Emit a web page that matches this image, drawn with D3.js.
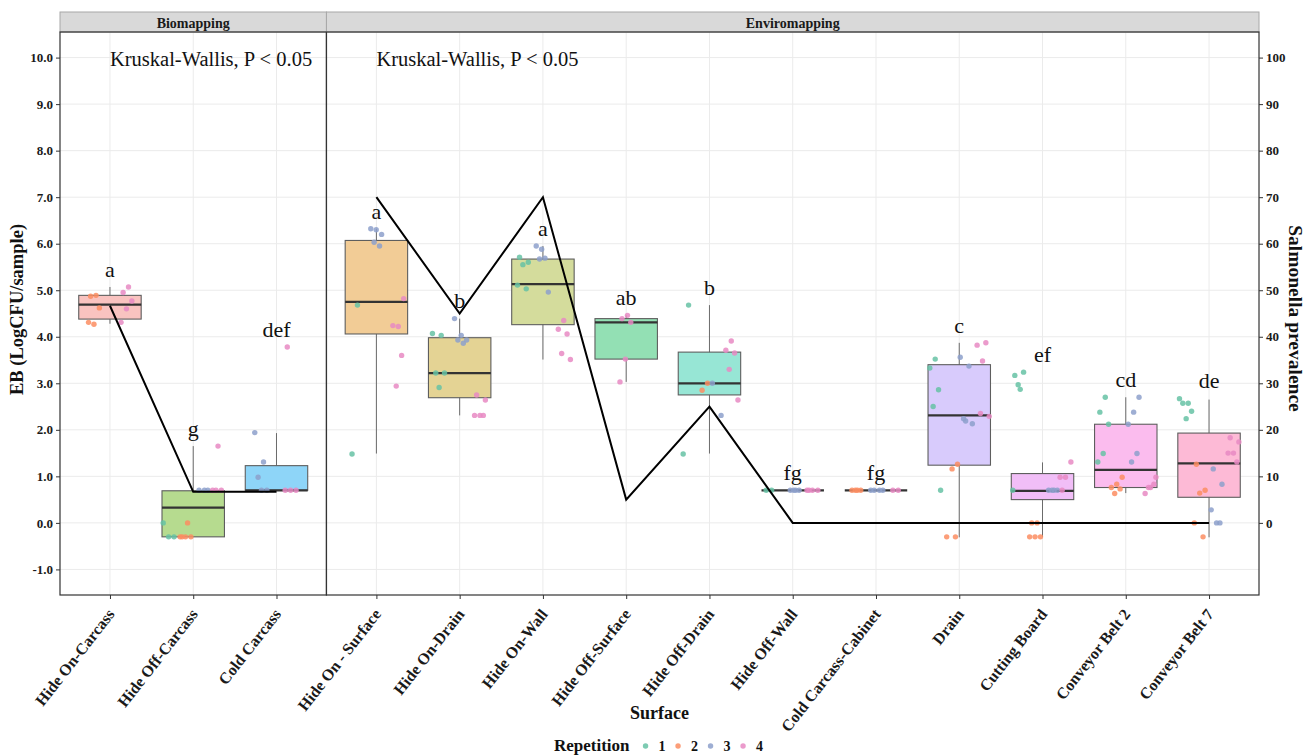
<!DOCTYPE html>
<html>
<head>
<meta charset="utf-8">
<script src="https://cdn.jsdelivr.net/npm/d3@7"></script>
<style>
  body { margin: 0; background: #fff; }
  svg { display: block; }
  text { font-family: "Liberation Serif", "Times New Roman", serif; }
</style>
</head>
<body>
<svg id="chart" width="1305" height="756"></svg>
<script>
// ---- facets and surfaces ----
const facetNames = ["Biomapping", "Enviromapping"];
const bioSurfaces = ["Hide On-Carcass", "Hide Off-Carcass", "Cold Carcass"];
const envSurfaces = ["Hide On - Surface", "Hide On-Drain", "Hide On-Wall", "Hide Off-Surface",
  "Hide Off-Drain", "Hide Off-Wall", "Cold Carcass-Cabinet", "Drain", "Cutting Board",
  "Conveyor Belt 2", "Conveyor Belt 7"];
const allSurfaces = bioSurfaces.concat(envSurfaces);

// ---- box plot statistics (log CFU/sample), one entry per surface ----
const boxLow    = [4.28, -0.30, 0.70, 1.49, 2.31, 3.51, 3.03, 1.49, 0.70, 0.70, -0.31, -0.30, 0.64, -0.31];
const boxQ1     = [4.38, -0.30, 0.70, 4.06, 2.69, 4.26, 3.52, 2.75, 0.70, 0.70, 1.24, 0.50, 0.76, 0.55];
const boxMedian = [4.69, 0.33, 0.70, 4.75, 3.22, 5.13, 4.31, 3.00, 0.70, 0.70, 2.31, 0.69, 1.14, 1.28];
const boxQ3     = [4.89, 0.69, 1.23, 6.07, 3.98, 5.67, 4.39, 3.67, 0.70, 0.70, 3.40, 1.06, 2.12, 1.93];
const boxHigh   = [5.07, 1.65, 1.93, 6.32, 4.39, 5.95, 4.46, 4.68, 0.70, 0.70, 3.87, 1.30, 2.70, 2.65];

// ---- individual samples by repetition (per surface) ----
const rep1Values = [
  [], [-0.30, -0.30, 0.00], [],
  [4.68, 1.48], [4.07, 4.03, 3.22, 3.22, 2.91], [5.71, 5.60, 5.55, 5.11, 5.03], [],
  [4.68, 1.48], [0.70, 0.70], [], [0.70, 3.52, 3.33, 2.86, 2.50], [2.87, 3.17, 3.24, 2.97, 0.70],
  [2.70, 2.38, 2.12, 1.49, 1.31], [2.67, 2.57, 2.57, 2.40, 2.24]
];
const rep2Values = [
  [4.89, 4.87, 4.62, 4.27, 4.31], [0.00, -0.30, -0.30, -0.30, -0.30], [],
  [], [], [], [],
  [3.00, 2.85], [], [0.70, 0.70, 0.70, 0.70], [1.26, 1.16, -0.30, -0.30], [0.00, 0.00, -0.30, -0.30, -0.30],
  [0.98, 0.83, 0.76, 0.73, 0.63], [1.26, 0.70, 0.64, 0.00, -0.30]
];
const rep3Values = [
  [], [0.70, 0.70, 0.70], [1.94, 1.31, 0.98, 0.70, 0.70],
  [6.20, 6.30, 6.32, 5.95, 6.03], [4.39, 3.86, 3.93, 3.93, 4.03], [5.88, 5.95, 5.69, 5.67, 4.96], [],
  [3.00, 2.31], [0.70, 0.70, 0.70, 0.70], [0.70, 0.70, 0.70, 0.70], [2.19, 3.56, 3.37, 2.24, 2.13], [0.70, 0.70, 0.70, 0.70],
  [2.70, 2.38, 2.12, 1.49, 1.31], [1.16, 0.83, 0.00, 0.28, 0.00]
];
const rep4Values = [
  [5.07, 4.95, 4.77, 4.60, 4.31], [1.65, 0.70, 0.70, 0.70], [3.78, 0.70, 0.70, 0.70],
  [4.82, 4.22, 4.24, 3.60, 2.94], [2.75, 2.64, 2.31, 2.31, 2.31], [4.35, 4.16, 4.06, 3.64, 3.51], [4.46, 4.39, 4.31, 3.52, 3.03],
  [3.91, 3.71, 3.65, 3.30, 2.64], [0.70, 0.70, 0.70, 0.70], [0.70, 0.70], [3.48, 3.82, 3.87, 2.35, 2.29], [0.70, 1.31, 0.98, 0.98],
  [0.98, 0.76, 0.63, 0.83, 0.76], [1.83, 1.74, 1.50, 1.50, 1.31]
];
const repetitions = ["1", "2", "3", "4"];

// ---- Salmonella prevalence (%) per surface ----
const prevalence = [46.67, 6.67, 6.67, 70, 45, 70, 5, 25, 0, 0, 0, 0, 0, 0];

// ---- compact letter display ----
const groupLetters = ["a", "g", "def", "a", "b", "a", "ab", "b", "fg", "fg", "c", "ef", "cd", "de"];

// ---- tick labels ----
const yTicks = [-1, 0, 1, 2, 3, 4, 5, 6, 7, 8, 9, 10];
const prevTicks = [0, 10, 20, 30, 40, 50, 60, 70, 80, 90, 100];

// ---- colours ----
const boxFills = ["#F9C3C0", "#B6DB8F", "#8ED5F8", "#F2CC96", "#E4D394", "#D4DC9C", "#93E0B4",
  "#97E6D5", "#9FE3EE", "#A9D4FA", "#D8CBFC", "#F1BEF7", "#FBBCEE", "#FDBAD6"];
const repColors = ["#66C2A5", "#FC8D62", "#8DA0CB", "#E78AC3"];

// ---- layout ----
const svg = d3.select("#chart");
const plotL = 60, plotR = 1259, plotT = 32, plotB = 595, stripT = 12;
const unitPx = (plotR - plotL) / ((bioSurfaces.length - 1 + 1.2) + (envSurfaces.length - 1 + 1.2));
const splitX = plotL + unitPx * (bioSurfaces.length - 1 + 1.2);

const xBio = d3.scalePoint().domain(bioSurfaces).range([plotL, splitX]).padding(0.6);
const xEnv = d3.scalePoint().domain(envSurfaces).range([splitX, plotR]).padding(0.6);
const y = d3.scaleLinear().domain([-1.55, 10.55]).range([plotB, plotT]);
const yPrev = d3.scaleLinear().domain([-15.5, 105.5]).range([plotB, plotT]);

const panels = [
  { name: facetNames[0], surfaces: bioSurfaces, x: xBio, offset: 0, x0: plotL, x1: splitX },
  { name: facetNames[1], surfaces: envSurfaces, x: xEnv, offset: bioSurfaces.length, x0: splitX, x1: plotR }
];

const gridColor = "#EBEBEB";
const frameColor = "#333333";

// gridlines
const grid = svg.append("g");
grid.selectAll("line.h").data(yTicks).join("line")
  .attr("x1", plotL).attr("x2", plotR)
  .attr("y1", d => y(d)).attr("y2", d => y(d))
  .attr("stroke", gridColor).attr("stroke-width", 1);
panels.forEach(p => {
  grid.selectAll(null).data(p.surfaces).join("line")
    .attr("x1", d => p.x(d)).attr("x2", d => p.x(d))
    .attr("y1", plotT).attr("y2", plotB)
    .attr("stroke", gridColor).attr("stroke-width", 1);
});

// boxes, samples, prevalence line, letters per panel
let jitterCounter = 0;
const repArrays = [rep1Values, rep2Values, rep3Values, rep4Values];
panels.forEach(p => {
  const g = svg.append("g");
  const step = p.x.step();
  const boxW = 0.75 * step;
  const idx = p.surfaces.map((s, k) => k + p.offset);

  // whiskers
  g.selectAll("line.wl").data(idx).join("line")
    .attr("x1", i => p.x(allSurfaces[i])).attr("x2", i => p.x(allSurfaces[i]))
    .attr("y1", i => y(boxLow[i])).attr("y2", i => y(boxHigh[i]))
    .attr("stroke", "#6b6b6b").attr("stroke-width", 1);
  // boxes
  g.selectAll("rect").data(idx).join("rect")
    .attr("x", i => p.x(allSurfaces[i]) - boxW / 2).attr("width", boxW)
    .attr("y", i => y(boxQ3[i])).attr("height", i => y(boxQ1[i]) - y(boxQ3[i]))
    .attr("fill", i => boxFills[i]).attr("stroke", "#5e5e5e").attr("stroke-width", 1.1);
  // medians
  g.selectAll("line.med").data(idx).join("line")
    .attr("x1", i => p.x(allSurfaces[i]) - boxW / 2).attr("x2", i => p.x(allSurfaces[i]) + boxW / 2)
    .attr("y1", i => y(boxMedian[i])).attr("y2", i => y(boxMedian[i]))
    .attr("stroke", "#333").attr("stroke-width", 2.2);

  // samples, dodged by repetition with a small deterministic jitter
  const pts = [];
  idx.forEach(i => {
    const present = repArrays.map((a, r) => ({ r, vals: a[i] })).filter(d => d.vals.length > 0);
    const n = present.length;
    present.forEach((grp, k) => {
      const centre = -0.375 + (0.75 / n) * (k + 0.5);
      grp.vals.forEach(v => {
        jitterCounter++;
        const jit = (((jitterCounter * 0.6180339887) % 1) * 2 - 1) * 0.085;
        pts.push({ i, r: grp.r, v, dx: (centre + jit) * step });
      });
    });
  });
  g.selectAll("circle").data(pts).join("circle")
    .attr("cx", d => p.x(allSurfaces[d.i]) + d.dx)
    .attr("cy", d => y(d.v))
    .attr("r", 2.7)
    .attr("fill", d => repColors[d.r]).attr("fill-opacity", 0.85);

  // prevalence line (secondary axis)
  const line = d3.line().x(i => p.x(allSurfaces[i])).y(i => yPrev(prevalence[i]));
  g.append("path").datum(idx).attr("d", line)
    .attr("fill", "none").attr("stroke", "#000").attr("stroke-width", 2)
    .attr("stroke-linejoin", "miter");

  // letters above the highest sample
  g.selectAll("text.letter").data(idx).join("text")
    .attr("x", i => p.x(allSurfaces[i]))
    .attr("y", i => y(d3.max(repArrays, a => d3.max(a[i]) ?? -Infinity) + 0.22))
    .attr("text-anchor", "middle").attr("font-size", 22).attr("fill", "#111")
    .text(i => groupLetters[i]);

  // test annotation
  g.append("text")
    .attr("x", p.x(p.surfaces[0])).attr("y", y(9.83))
    .attr("font-size", 20.5).attr("fill", "#111")
    .text("Kruskal-Wallis, P < 0.05");

  // strip
  svg.append("rect").attr("x", p.x0).attr("y", stripT).attr("width", p.x1 - p.x0).attr("height", plotT - stripT)
    .attr("fill", "#D9D9D9").attr("stroke", "#A8A8A8").attr("stroke-width", 1);
  svg.append("text").attr("x", (p.x0 + p.x1) / 2).attr("y", 27.5)
    .attr("text-anchor", "middle").attr("font-size", 14).attr("font-weight", "bold").attr("fill", "#1a1a1a")
    .text(p.name);

  // panel border
  svg.append("rect").attr("x", p.x0).attr("y", plotT).attr("width", p.x1 - p.x0).attr("height", plotB - plotT)
    .attr("fill", "none").attr("stroke", frameColor).attr("stroke-width", 1.2);

  // bottom axis
  const ax = svg.append("g").attr("transform", `translate(0,${plotB})`)
    .call(d3.axisBottom(p.x).tickSize(4).tickPadding(3));
  ax.select(".domain").remove();
  ax.selectAll(".tick line").attr("stroke", frameColor);
  ax.selectAll(".tick text")
    .attr("font-family", "Liberation Serif").attr("font-size", 16).attr("font-weight", "bold").attr("fill", "#1a1a1a")
    .attr("text-anchor", "end").attr("dy", "0.75em")
    .attr("transform", "translate(-4.5,12) rotate(-52)")
    .attr("y", 0).attr("x", 0);
});

// left axis
const axL = svg.append("g").attr("transform", `translate(${plotL},0)`)
  .call(d3.axisLeft(y).tickValues(yTicks).tickFormat(v => v.toFixed(1)).tickSize(4).tickPadding(3));
axL.select(".domain").remove();
axL.selectAll(".tick line").attr("stroke", frameColor);
axL.selectAll(".tick text").attr("font-family", "Liberation Serif").attr("font-size", 13)
  .attr("font-weight", "bold").attr("fill", "#1a1a1a");

// right axis
const axR = svg.append("g").attr("transform", `translate(${plotR},0)`)
  .call(d3.axisRight(yPrev).tickValues(prevTicks).tickFormat(d3.format("d")).tickSize(4).tickPadding(3));
axR.select(".domain").remove();
axR.selectAll(".tick line").attr("stroke", frameColor);
axR.selectAll(".tick text").attr("font-family", "Liberation Serif").attr("font-size", 13)
  .attr("font-weight", "bold").attr("fill", "#1a1a1a");

// axis titles
svg.append("text").attr("transform", `translate(23,${(plotT + plotB) / 2 - 4}) rotate(-90)`)
  .attr("text-anchor", "middle").attr("font-size", 18.5).attr("font-weight", "bold").attr("fill", "#111")
  .text("EB (LogCFU/sample)");
svg.append("text").attr("transform", `translate(1289,${(plotT + plotB) / 2 + 5}) rotate(90)`)
  .attr("text-anchor", "middle").attr("font-size", 19.5).attr("font-weight", "bold").attr("fill", "#111")
  .text("Salmonella prevalence");
svg.append("text").attr("x", (plotL + plotR) / 2).attr("y", 719)
  .attr("text-anchor", "middle").attr("font-size", 18).attr("font-weight", "bold").attr("fill", "#111")
  .text("Surface");

// legend
const legend = svg.append("g");
const legTitle = legend.append("text").attr("x", 554).attr("y", 751)
  .attr("font-size", 17).attr("font-weight", "bold").attr("fill", "#111").text("Repetition");
let lx = 554 + legTitle.node().getComputedTextLength() + 16;
repetitions.forEach((r, k) => {
  legend.append("circle").attr("cx", lx).attr("cy", 746).attr("r", 2.7)
    .attr("fill", repColors[k]).attr("fill-opacity", 0.85);
  const t = legend.append("text").attr("x", lx + 13).attr("y", 751)
    .attr("font-size", 14).attr("font-weight", "bold").attr("fill", "#111").text(r);
  lx += 13 + t.node().getComputedTextLength() + 12.5;
});
</script>
</body>
</html>
